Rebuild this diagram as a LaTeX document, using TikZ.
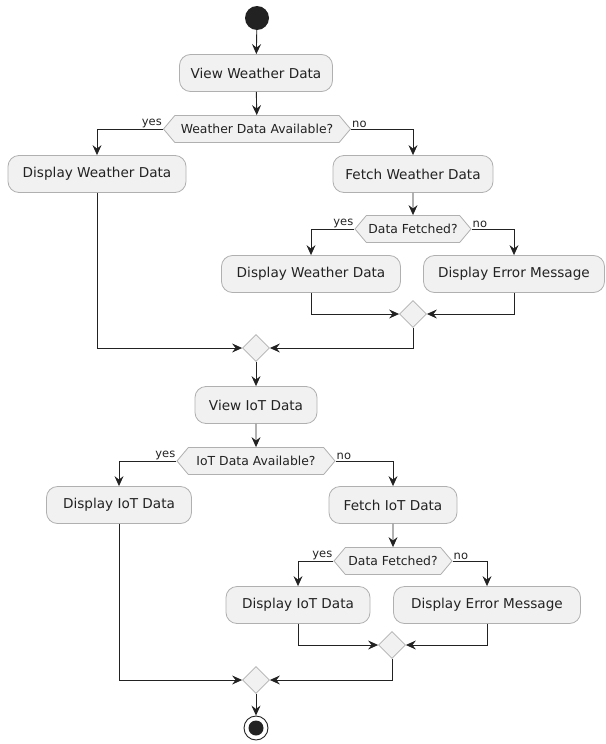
\documentclass[tikz,border=0pt]{standalone}
\usepackage{fontspec}
\setmainfont{DejaVu Sans}
\usetikzlibrary{arrows.meta,shapes.geometric,shapes.symbols}
\definecolor{boxfill}{HTML}{F1F1F1}
\definecolor{boxline}{HTML}{B0B0B0}
\definecolor{ink}{HTML}{222222}
\begin{document}
\begin{tikzpicture}[x=1pt,y=-1pt,
  act/.style={draw=boxline,fill=boxfill,rounded corners=11pt,line width=0.8pt,minimum height=37pt,inner xsep=0pt,font=\fontsize{13.6}{15}\selectfont,text=ink},
  dec/.style={draw=boxline,fill=boxfill,shape=signal,signal to=west and east,signal pointer angle=100,line width=0.8pt,minimum height=27pt,inner xsep=0pt,inner ysep=0pt,font=\fontsize{12.4}{14}\selectfont,text=ink},
  merge/.style={draw=boxline,fill=boxfill,shape=diamond,line width=0.8pt,minimum width=27pt,minimum height=27pt,inner sep=0pt},
  arr/.style={draw=ink,line width=0.9pt,-{Stealth[length=10pt,width=9pt,inset=3.5pt]}},
  lbl/.style={font=\fontsize{11.5}{13}\selectfont,text=ink,inner sep=1pt},
]
\useasboundingbox (0,0) rectangle (605,744);
% start
\node[circle,fill=ink,minimum size=24pt,inner sep=0pt] (start) at (257,18) {};
\node[act,minimum width=153pt] (vwd) at (256,73) {View Weather Data};
\node[dec,minimum width=187pt] (d1) at (257,129) {Weather Data Available?};
\node[act,minimum width=178pt] (dwd1) at (97,174) {Display Weather Data};
\node[act,minimum width=160pt] (fwd) at (413,174) {Fetch Weather Data};
\node[dec,minimum width=116pt] (df1) at (413,229) {Data Fetched?};
\node[act,minimum width=179pt] (dwd2) at (311,274) {Display Weather Data};
\node[act,minimum width=181pt] (dem1) at (514,274) {Display Error Message};
\node[merge] (m1) at (413,314) {};
\node[merge] (m2) at (256,348) {};
\node[act,minimum width=122pt] (viot) at (256,405) {View IoT Data};
\node[dec,minimum width=158pt] (d2) at (256,461) {IoT Data Available?};
\node[act,minimum width=145pt] (diot1) at (119,505) {Display IoT Data};
\node[act,minimum width=128pt] (fiot) at (393,505) {Fetch IoT Data};
\node[dec,minimum width=118pt] (df2) at (393,561) {Data Fetched?};
\node[act,minimum width=144pt] (diot2) at (298,605) {Display IoT Data};
\node[act,minimum width=187pt] (dem2) at (487,605) {Display Error Message};
\node[merge] (m3) at (392,645) {};
\node[merge] (m4) at (256,680) {};
\node[circle,draw=ink,fill=white,line width=0.9pt,minimum size=24pt,inner sep=0pt] (end) at (256,728) {};
\node[circle,fill=ink,minimum size=15pt,inner sep=0pt] (endin) at (end) {};
% edges
\draw[arr] (start) -- (vwd);
\draw[arr] (vwd) -- (d1);
\draw[arr] (d1.west) -| (dwd1.north);
\draw[arr] (d1.east) -| (fwd.north);
\draw[arr] (fwd) -- (df1);
\draw[arr] (df1.west) -| (dwd2.north);
\draw[arr] (df1.east) -| (dem1.north);
\draw[arr] (dwd2.south) |- (m1.west);
\draw[arr] (dem1.south) |- (m1.east);
\draw[arr] (dwd1.south) |- (m2.west);
\draw[arr] (m1.south) |- (m2.east);
\draw[arr] (m2) -- (viot);
\draw[arr] (viot) -- (d2);
\draw[arr] (d2.west) -| (diot1.north);
\draw[arr] (d2.east) -| (fiot.north);
\draw[arr] (fiot) -- (df2);
\draw[arr] (df2.west) -| (diot2.north);
\draw[arr] (df2.east) -| (dem2.north);
\draw[arr] (diot2.south) |- (m3.west);
\draw[arr] (dem2.south) |- (m3.east);
\draw[arr] (diot1.south) |- (m4.west);
\draw[arr] (m3.south) |- (m4.east);
\draw[arr] (m4) -- (end);
% labels
\node[lbl,anchor=south east] (y1) at (d1.west) {yes};
\node[lbl,anchor=south west] (n1) at (d1.east) {no};
\node[lbl,anchor=south east] (y2) at (df1.west) {yes};
\node[lbl,anchor=south west] (n2) at (df1.east) {no};
\node[lbl,anchor=south east] (y3) at (d2.west) {yes};
\node[lbl,anchor=south west] (n3) at (d2.east) {no};
\node[lbl,anchor=south east] (y4) at (df2.west) {yes};
\node[lbl,anchor=south west] (n4) at (df2.east) {no};
\end{tikzpicture}
\end{document}
